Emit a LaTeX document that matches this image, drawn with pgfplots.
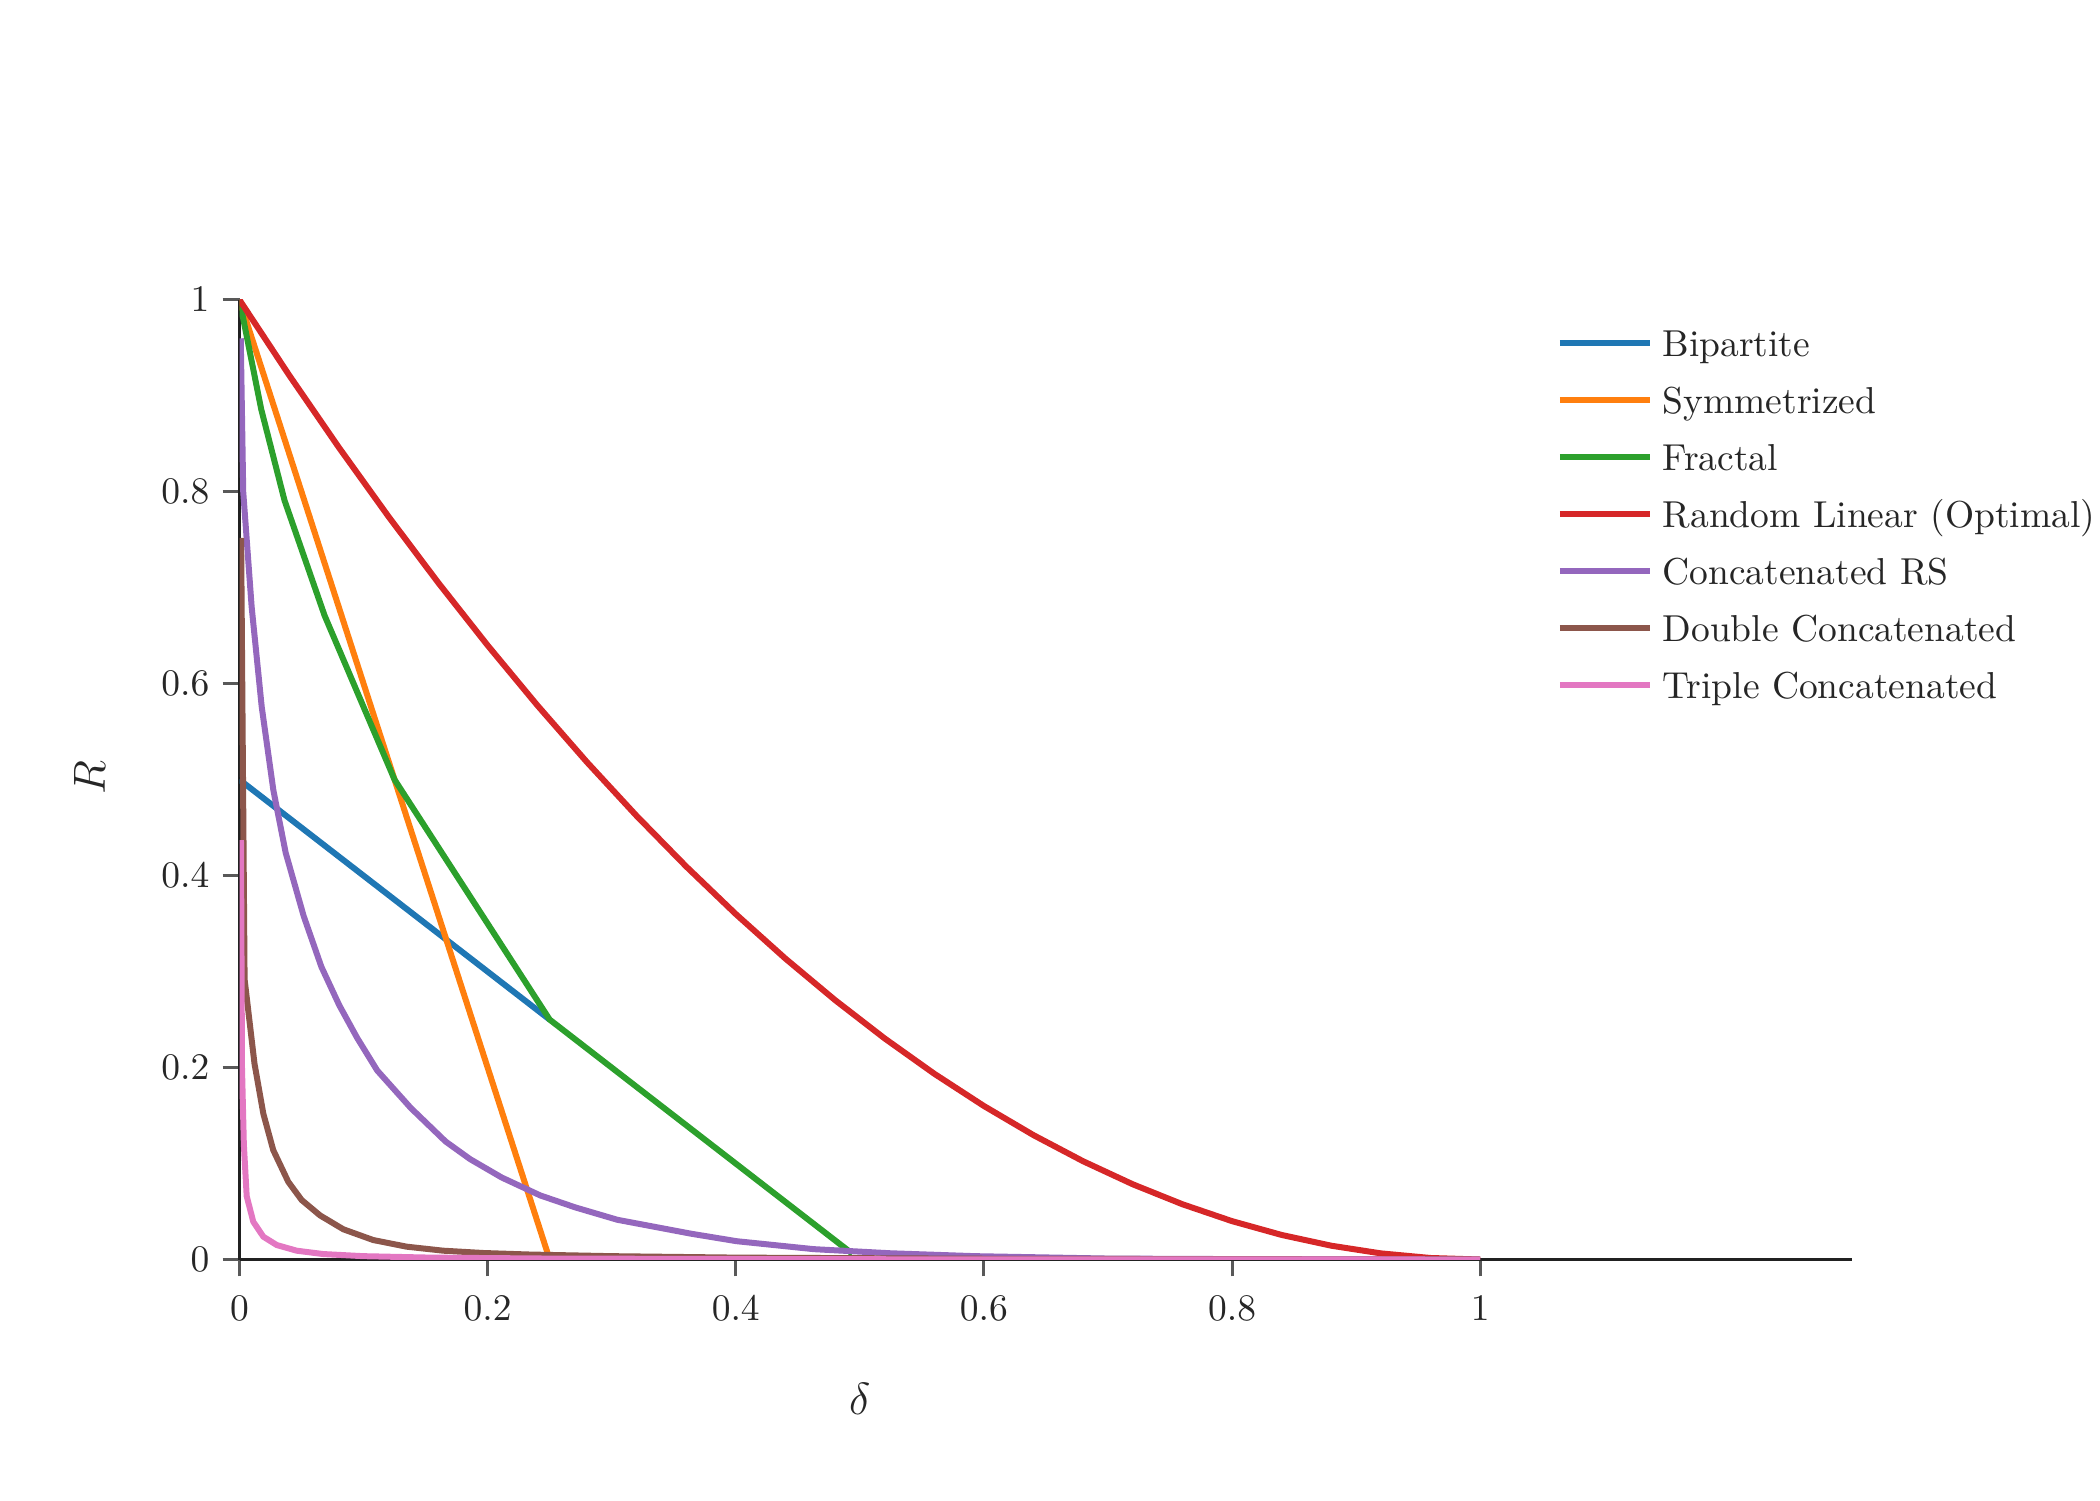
\documentclass[border=0pt]{standalone}
\usepackage{pgfplots}
\pgfplotsset{compat=1.18}
\definecolor{cblue}{HTML}{1F77B4}
\definecolor{corange}{HTML}{FF7F0E}
\definecolor{cgreen}{HTML}{2CA02C}
\definecolor{cred}{HTML}{D62728}
\definecolor{cpurple}{HTML}{9467BD}
\definecolor{cbrown}{HTML}{8C564B}
\definecolor{cpink}{HTML}{E377C2}
\begin{document}
\begin{tikzpicture}
\begin{axis}[
  at={(0pt,0pt)}, anchor=south west,
  scale only axis, width=430.1pt, height=255.9pt,
  xmin=0, xmax=1.3, ymin=0, ymax=1,
  axis x line*=bottom, axis y line*=left,
  axis line style={-, draw=black!87, line width=0.9pt},
  every outer x axis line/.append style={-},
  every outer y axis line/.append style={-},
  xtick={0,0.2,0.4,0.6,0.8,1}, ytick={0,0.2,0.4,0.6,0.8,1},
  tick align=outside, major tick length=4.5pt,
  tick style={draw=black!65, line width=0.8pt},
  ticklabel style={font=\fontsize{10.3}{12}\selectfont, text=black!85},
  xticklabel style={yshift=-1.9pt},
  xlabel={$\delta$}, ylabel={$R$},
  label style={font=\fontsize{12}{14}\selectfont, text=black!85},
  xlabel style={at={(axis description cs:0.3846,-0.1454)}, anchor=center},
  ylabel style={at={(axis description cs:-0.093,0.502)}, anchor=center},
  legend cell align=left,
  legend style={at={(axis description cs:0.8168,0.9766)}, anchor=north west,
    draw=none, fill=none, inner sep=0pt, outer sep=0pt,
    row sep=4.0pt, column sep=2.6pt,
    nodes={inner sep=0pt, text height=9pt, text depth=2.2pt,
      font=\fontsize{10}{12}\selectfont, text=black!85}},
  legend image code/.code={\draw[#1, line width=1.6pt] (0pt,0pt) -- (24pt,0pt);},
  every axis plot/.append style={line width=1.6pt},
]
\addplot[cblue] coordinates {(0,0.5) (0.25,0.25)};
\addlegendentry{Bipartite}
\addplot[corange] coordinates {(0,1) (0.25,0)};
\addlegendentry{Symmetrized}
\addplot[cgreen] coordinates {(0,1) (0.0175,0.886) (0.0363,0.791) (0.0686,0.671) (0.125,0.5) (0.25,0.25) (0.494,0.006)};
\addlegendentry{Fractal}
\addplot[cred] coordinates {(0,1) (0.04,0.9216) (0.08,0.8464) (0.12,0.7744) (0.16,0.7056) (0.2,0.64) (0.24,0.5776) (0.28,0.5184) (0.32,0.4624) (0.36,0.4096) (0.4,0.36) (0.44,0.3136) (0.48,0.2704) (0.52,0.2304) (0.56,0.1936) (0.6,0.16) (0.64,0.1296) (0.68,0.1024) (0.72,0.0784) (0.76,0.0576) (0.8,0.04) (0.84,0.0256) (0.88,0.0144) (0.92,0.0064) (0.96,0.0016) (1,0)};
\addlegendentry{Random Linear (Optimal)}
\addplot[cpurple] coordinates {(0.001,0.96) (0.003,0.80) (0.0098,0.68) (0.0179,0.576) (0.0273,0.489) (0.0372,0.424) (0.0517,0.358) (0.066,0.305) (0.0804,0.265) (0.0948,0.231) (0.111,0.197) (0.138,0.158) (0.1661,0.123) (0.1859,0.1046) (0.2113,0.0855) (0.2424,0.0668) (0.2707,0.0543) (0.3046,0.0414) (0.364,0.0269) (0.4007,0.0191) (0.4629,0.0108) (0.525,0.0065) (0.593,0.0035) (0.7,0.001) (0.85,0.0002) (1,0)};
\addlegendentry{Concatenated RS}
\addplot[cbrown] coordinates {(0.0013,0.752) (0.0041,0.292) (0.0121,0.204) (0.0192,0.152) (0.0272,0.114) (0.0393,0.081) (0.0501,0.062) (0.0649,0.046) (0.0837,0.0315) (0.1078,0.0203) (0.1347,0.0134) (0.1643,0.0092) (0.1965,0.0068) (0.234,0.0052) (0.3,0.0035) (0.4,0.002) (0.6,0.0008) (1,0)};
\addlegendentry{Double Concatenated}
\addplot[cpink] coordinates {(0.0012,0.437) (0.002,0.20) (0.0035,0.12) (0.0058,0.066) (0.0111,0.0394) (0.0192,0.0238) (0.03,0.0151) (0.0461,0.0092) (0.0675,0.0057) (0.0998,0.0035) (0.1535,0.002) (0.25,0.001) (0.5,0.0003) (1,0)};
\addlegendentry{Triple Concatenated}
\end{axis}
\pgfresetboundingbox
\path[use as bounding box] (-63.87pt,-64.13pt) rectangle (496.13pt,335.87pt);
\end{tikzpicture}
\end{document}
